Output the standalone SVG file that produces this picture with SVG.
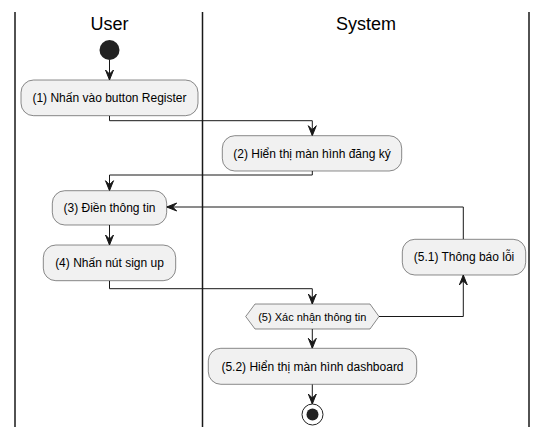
<svg xmlns="http://www.w3.org/2000/svg" width="547" height="437" viewBox="0 0 547 437">
<style>
.lane{stroke:#181818;stroke-width:1.5;fill:none}
.title{font-family:"Liberation Sans",Arial,sans-serif;font-size:18px;fill:#000;text-anchor:middle}
.box{fill:#F1F1F1;stroke:#181818;stroke-width:0.5}
.lbl{font-family:"Liberation Sans",Arial,sans-serif;font-size:12px;fill:#000;text-anchor:middle}
.lbl11{font-family:"Liberation Sans",Arial,sans-serif;font-size:11px;fill:#000;text-anchor:middle}
.edge{stroke:#181818;stroke-width:1;fill:none;marker-end:url(#arr)}
</style>
<defs>
<marker id="arr" markerUnits="userSpaceOnUse" markerWidth="12" markerHeight="12" viewBox="-11 -6 12 12" refX="0" refY="0" orient="auto">
<polygon points="0,0 -10,-4 -6,0 -10,4" fill="#181818" stroke="#181818" stroke-width="1"/>
</marker>
</defs>
<g id="lanes">
<line class="lane" x1="15" y1="12" x2="15" y2="427"/>
<line class="lane" x1="202.5" y1="12" x2="202.5" y2="427"/>
<line class="lane" x1="529" y1="12" x2="529" y2="427"/>
<text class="title" x="109.5" y="30">User</text>
<text class="title" x="366" y="30">System</text>
</g>
<g id="connectors">
<path class="edge" d="M109.5,60 V80"/>
<path class="edge" d="M109.5,115.7 V120.7 H312.3 V135.7"/>
<path class="edge" d="M312.3,171 V175 H109.5 V190.7"/>
<path class="edge" d="M109.5,225 V245"/>
<path class="edge" d="M109.5,280.7 V288.7 H312.3 V304"/>
<path class="edge" d="M379,316.5 H463.3 V275"/>
<path class="edge" d="M463.3,239.3 V207 H166.7"/>
<path class="edge" d="M312.3,329 V348.3"/>
<path class="edge" d="M312.3,384.3 V404"/>
</g>
<g id="start"><circle cx="109.5" cy="50" r="10" fill="#222222"/></g>
<g id="n1"><rect class="box" x="21" y="80" width="177" height="35.7" rx="12.5"/><text class="lbl" x="109.5" y="102">(1) Nhấn vào button Register</text></g>
<g id="n2"><rect class="box" x="222.3" y="135.7" width="179.4" height="35.3" rx="12.5"/><text class="lbl" x="312" y="157.5">(2) Hiển thị màn hình đăng ký</text></g>
<g id="n3"><rect class="box" x="52.3" y="190.7" width="114.4" height="34.3" rx="12.5"/><text class="lbl" x="109.5" y="212">(3) Điền thông tin</text></g>
<g id="n4"><rect class="box" x="43.3" y="245" width="132.4" height="35.7" rx="12.5"/><text class="lbl" x="109.5" y="267">(4) Nhấn nút sign up</text></g>
<g id="n51"><rect class="box" x="402.3" y="239.3" width="123.4" height="35.7" rx="12.5"/><text class="lbl" x="464" y="261.3">(5.1) Thông báo lỗi</text></g>
<g id="n5"><polygon class="box" points="245.7,316.5 255,304 370,304 379,316.5 370,329 255,329"/><text class="lbl11" x="312.3" y="320.5">(5) Xác nhận thông tin</text></g>
<g id="n52"><rect class="box" x="208.3" y="348.3" width="208.4" height="36" rx="12.5"/><text class="lbl" x="312.5" y="370.5">(5.2) Hiển thị màn hình dashboard</text></g>
<g id="end"><circle cx="312.5" cy="414.5" r="10.5" fill="none" stroke="#222222" stroke-width="1"/><circle cx="312.5" cy="414.5" r="6" fill="#222222"/></g>
</svg>
